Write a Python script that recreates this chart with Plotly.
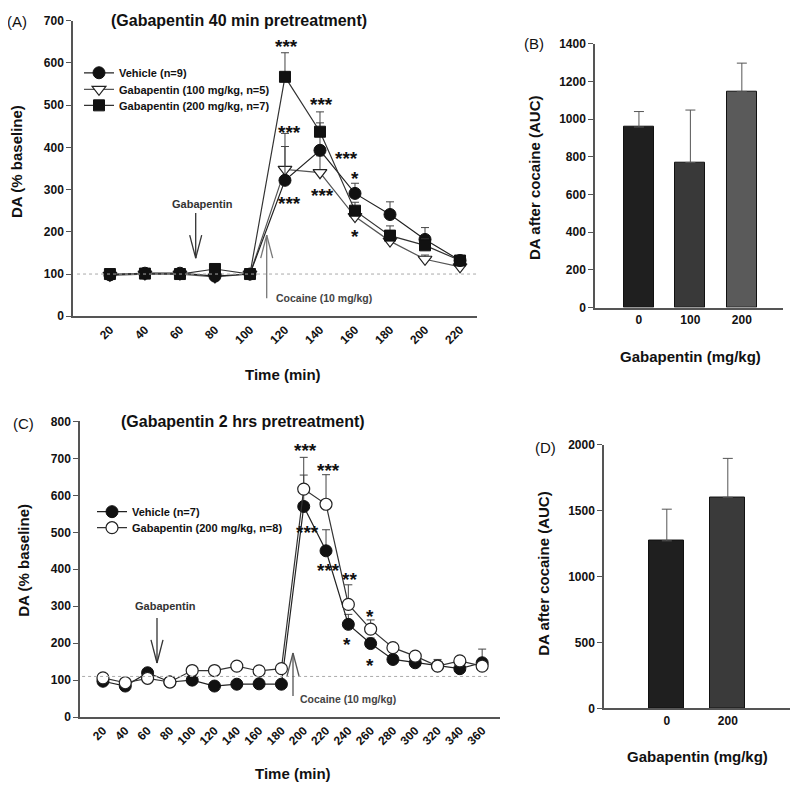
import plotly.graph_objects as go

# The page body has an 8 px default margin; the figure is sized and positioned to compensate.
OFF = 8
W, H = 784, 778
FONT = "Liberation Sans"
AX = "#555555"
# empirical vertical calibration of the photographed page (observed = VA + VB * page_y)
VA, VB = 7.5, 0.98


def px(x):
    return (x - OFF) / W


def py(y):
    page = min((y - VA) / VB, OFF + H - 6)
    return 1 - (page - OFF) / H


# ---------------- Panel A data (40 min pretreatment) ----------------
timeA = [20, 40, 60, 80, 100, 120, 140, 160, 180, 200, 220]
vehA = [98, 102, 102, 95, 100, 322, 393, 291, 241, 182, 132]
vehA_err = [6, 8, 8, 6, 6, 80, 65, 24, 30, 28, 8]
g100A = [97, 100, 100, 93, 100, 348, 340, 236, 178, 135, 117]
g100A_err = [5, 6, 6, 5, 5, 85, 40, 20, 15, 10, 5]
g200A = [100, 101, 100, 112, 100, 567, 437, 250, 191, 168, 132]
g200A_err = [5, 5, 6, 8, 5, 57, 47, 20, 23, 15, 8]

# ---------------- Panel B data ----------------
doseB = ["0", "100", "200"]
aucB = [958, 770, 1147]
aucB_err = [82, 278, 150]
colB = ["#1f1f1f", "#393939", "#5a5a5a"]

# ---------------- Panel C data (2 hrs pretreatment) ----------------
timeC = [20, 40, 60, 80, 100, 120, 140, 160, 180, 200, 220, 240, 260, 280, 300, 320, 340, 360]
vehC = [97, 84, 120, 95, 100, 84, 89, 90, 89, 570, 450, 251, 199, 156, 147, 139, 131, 147]
vehC_err = [5, 5, 5, 5, 5, 5, 5, 5, 5, 85, 57, 27, 15, 10, 8, 10, 8, 37]
gabC = [106, 93, 105, 95, 126, 126, 138, 125, 131, 617, 576, 305, 238, 188, 165, 138, 152, 138]
gabC_err = [5, 5, 5, 5, 5, 5, 5, 5, 5, 86, 80, 53, 25, 10, 8, 18, 8, 8]

# ---------------- Panel D data ----------------
doseD = ["0", "200"]
aucD = [1270, 1600]
aucD_err = [240, 295]
colD = ["#1f1f1f", "#3a3a3a"]

# significance marks (x, y in data units, text)
starsA = [(120.6, 650, "***"), (122.3, 447, "***"), (140.6, 513, "***"), (154.9, 385, "***"),
          (160, 339, "*"), (122.3, 278, "***"), (141.4, 299, "***"), (160, 200, "*")]
starsC = [(201.3, 734, "***"), (222, 680, "***"), (203, 512, "***"), (222, 409, "***"),
          (240.8, 387, "**"), (259.7, 285, "*"), (239, 211, "*"), (259.7, 152, "*")]

fig = go.Figure()


def err(arr):
    return dict(type="data", array=arr, arrayminus=[0] * len(arr), symmetric=False,
                color="#444444", thickness=1, width=4)


# Panel A traces
fig.add_trace(go.Scatter(
    x=timeA, y=g100A, mode="lines+markers", name="Gabapentin (100 mg/kg, n=5)",
    line=dict(color="#555555", width=1.2),
    marker=dict(symbol="triangle-down", size=12, color="white", line=dict(color="#222", width=1.2)),
    error_y=err(g100A_err), xaxis="x", yaxis="y", legend="legend2"))
fig.add_trace(go.Scatter(
    x=timeA, y=vehA, mode="lines+markers", name="Vehicle (n=9)",
    line=dict(color="#222222", width=1.2),
    marker=dict(symbol="circle", size=12, color="#111", line=dict(color="#111", width=1)),
    error_y=err(vehA_err), xaxis="x", yaxis="y", legend="legend"))
fig.add_trace(go.Scatter(
    x=timeA, y=g200A, mode="lines+markers", name="Gabapentin (200 mg/kg, n=7)",
    line=dict(color="#333333", width=1.2),
    marker=dict(symbol="square", size=11, color="#111", line=dict(color="#111", width=1)),
    error_y=err(g200A_err), xaxis="x", yaxis="y", legend="legend3"))

# Panel B bars
fig.add_trace(go.Bar(
    x=doseB, y=aucB, width=0.58, marker=dict(color=colB, line=dict(color="#111", width=1)),
    error_y=dict(type="data", array=aucB_err, arrayminus=[0] * 3, symmetric=False,
                 color="#555", thickness=1, width=5),
    showlegend=False, xaxis="x2", yaxis="y2"))

# Panel C traces
fig.add_trace(go.Scatter(
    x=timeC, y=vehC, mode="lines+markers", name="Vehicle (n=7)",
    line=dict(color="#222222", width=1.2),
    marker=dict(symbol="circle", size=12, color="#111", line=dict(color="#111", width=1)),
    error_y=err(vehC_err), xaxis="x3", yaxis="y3", legend="legend4"))
fig.add_trace(go.Scatter(
    x=timeC, y=gabC, mode="lines+markers", name="Gabapentin (200 mg/kg, n=8)",
    line=dict(color="#333333", width=1.2),
    marker=dict(symbol="circle", size=12, color="white", line=dict(color="#222", width=1.2)),
    error_y=err(gabC_err), xaxis="x3", yaxis="y3", legend="legend5"))

# Panel D bars
fig.add_trace(go.Bar(
    x=doseD, y=aucD, width=0.57, marker=dict(color=colD, line=dict(color="#111", width=1)),
    error_y=dict(type="data", array=aucD_err, arrayminus=[0] * 2, symmetric=False,
                 color="#555", thickness=1, width=5),
    showlegend=False, xaxis="x4", yaxis="y4"))

tickfont = dict(family=FONT, size=12, color="#111", weight="bold")
common = dict(showline=True, linecolor=AX, linewidth=1.5, showgrid=False, zeroline=False,
              tickfont=tickfont, tickcolor=AX, ticklen=5, tickwidth=1.2)

layout = dict(
    width=W, height=H, margin=dict(l=0, r=0, t=0, b=0),
    paper_bgcolor="white", plot_bgcolor="white",
    font=dict(family=FONT, color="#111"),
    bargap=0,
    xaxis=dict(domain=[px(73), px(477)], range=[-1.1, 229.7], tickvals=timeA, tickangle=-45,
               ticks="", anchor="y", **common),
    yaxis=dict(domain=[py(316), py(21)], range=[0, 700], dtick=100, ticks="outside", anchor="x", **common),
    xaxis2=dict(domain=[px(595), px(783)], type="category", range=[-0.854, 2.8], ticks="",
                anchor="y2", **common),
    yaxis2=dict(domain=[py(307.3), py(44)], range=[0, 1400], dtick=200, ticks="outside", anchor="x2", **common),
    xaxis3=dict(domain=[px(80), px(500)], range=[-0.6, 376], tickvals=timeC, tickangle=-45,
                ticks="", anchor="y3", **common),
    yaxis3=dict(domain=[py(716), py(421)], range=[0, 800], dtick=100, ticks="outside", anchor="x3", **common),
    xaxis4=dict(domain=[px(604), px(790)], type="category", range=[-1.03, 2.02], ticks="",
                anchor="y4", **common),
    yaxis4=dict(domain=[py(707.3), py(444)], range=[0, 2000], dtick=500, ticks="outside", anchor="x4", **common),
)

legfont = dict(family=FONT, size=11, color="#111", weight="bold")


def leg(xm, ym):
    return dict(x=px(xm - 22), y=py(ym), xanchor="left", yanchor="middle", bgcolor="rgba(0,0,0,0)",
                font=legfont, itemwidth=30, borderwidth=0, tracegroupgap=0)


layout["legend"] = leg(101, 73)
layout["legend2"] = leg(101, 89.5)
layout["legend3"] = leg(101, 105.5)
layout["legend4"] = leg(114, 511)
layout["legend5"] = leg(114, 527)
fig.update_layout(**layout)

ann = []


def text(x, y, t, size, rot=0, anchor="center", color="#111", weight="bold"):
    f = dict(family=FONT, size=size, color=color, weight=weight)
    ann.append(dict(xref="paper", yref="paper", x=px(x), y=py(y), text=t, showarrow=False,
                    xanchor=anchor, yanchor="middle", textangle=rot, font=f))


# panel letters and titles
text(17, 22, "(A)", 15, weight="normal")
text(534, 44, "(B)", 15, weight="normal")
text(24, 423, "(C)", 15, weight="normal")
text(545, 447, "(D)", 15, weight="normal")
text(239, 21, "(Gabapentin 40 min pretreatment)", 16)
text(243, 421, "(Gabapentin 2 hrs pretreatment)", 16)
# axis titles
text(17, 162, "DA (% baseline)", 15, rot=-90)
text(283, 374, "Time (min)", 15)
text(535, 178, "DA after cocaine (AUC)", 15, rot=-90)
text(690, 356, "Gabapentin (mg/kg)", 15)
text(24, 560, "DA (% baseline)", 15, rot=-90)
text(293, 777, "Time (min)", 15)
text(544, 573, "DA after cocaine (AUC)", 15, rot=-90)
text(697, 755, "Gabapentin (mg/kg)", 15)
# event labels
text(202, 204, "Gabapentin", 11, color="#333")
text(274, 298, "Cocaine (10 mg/kg)", 10.5, anchor="left", color="#444")
text(165, 605, "Gabapentin", 11, color="#333")
text(298, 698, "Cocaine (10 mg/kg)", 10.5, anchor="left", color="#444")

for (x, y, t) in starsA:
    ann.append(dict(xref="x", yref="y", x=x, y=y, text=t, showarrow=False, yshift=-5,
                    font=dict(family=FONT, size=19, color="#111", weight="bold")))
for (x, y, t) in starsC:
    ann.append(dict(xref="x3", yref="y3", x=x, y=y, text=t, showarrow=False, yshift=-5,
                    font=dict(family=FONT, size=19, color="#111", weight="bold")))
fig.update_layout(annotations=ann)

shapes = []
# dotted baselines
shapes.append(dict(type="line", xref="x domain", yref="y", x0=0.01, x1=1, y0=100, y1=100,
                   line=dict(color="#aaaaaa", width=1, dash="dot")))
shapes.append(dict(type="line", xref="x3 domain", yref="y3", x0=0.005, x1=0.976, y0=110, y1=110,
                   line=dict(color="#aaaaaa", width=1, dash="dot")))


def arrow(x, y_tail, y_tip, color):
    d = 1 if y_tip > y_tail else -1  # pixel direction of tip
    hl = 23
    for (xa, ya, xb, yb) in [(x, y_tail, x, y_tip), (x - 6, y_tip - d * hl, x, y_tip),
                             (x + 6, y_tip - d * hl, x, y_tip)]:
        shapes.append(dict(type="line", xref="paper", yref="paper", x0=px(xa), y0=py(ya),
                           x1=px(xb), y1=py(yb), line=dict(color=color, width=1.3)))


arrow(195.7, 213, 258, "#333333")
arrow(266.7, 298, 235, "#777777")
arrow(157, 617, 662, "#333333")
arrow(293, 695, 652, "#555555")
fig.update_layout(shapes=shapes)

fig.write_html("out.html")
